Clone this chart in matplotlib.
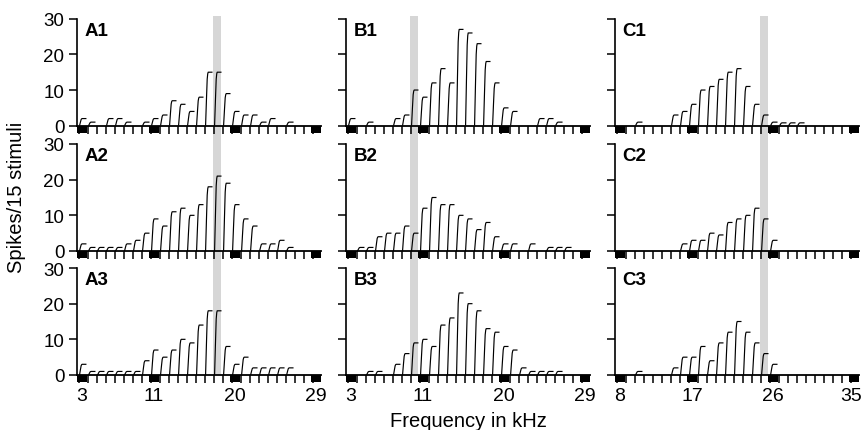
import matplotlib
matplotlib.use("Agg")
import matplotlib.pyplot as plt
import matplotlib.transforms as mtransforms
from matplotlib.patches import Rectangle

plt.rcParams['font.family'] = ['Liberation Sans', 'DejaVu Sans']

# ---------------- data ----------------
n_bins = 27
label_bins = [0, 8, 17, 26]
labels_AB = ["3", "11", "20", "29"]
labels_C = ["8", "17", "26", "35"]
band_bins = {"A": 15, "B": 7, "C": 16}

A1 = [2, 1, 0, 2, 2, 1, 0, 1, 2, 3, 7, 6, 4, 8, 15, 15, 9, 4, 3, 3, 1, 2, 0, 1, 0, 0, 0]
A2 = [2, 1, 1, 1, 1, 2, 3, 5, 9, 7, 11, 12, 10, 13, 18, 21, 19, 13, 9, 7, 2, 2, 3, 1, 0, 0, 0]
A3 = [3, 1, 1, 1, 1, 1, 1, 4, 7, 5, 7, 10, 9, 14, 18, 18, 8, 3, 5, 2, 2, 2, 2, 2, 0, 0, 0]
B1 = [2, 0, 1, 0, 0, 2, 3, 10, 8, 12, 16, 12, 27, 26, 23, 18, 12, 5, 4, 0, 0, 2, 2, 1, 0, 0, 0]
B2 = [0, 1, 1, 4, 5, 5, 7, 5, 12, 15, 13, 13, 10, 9, 6, 8, 4, 2, 2, 0, 2, 0, 1, 1, 1, 0, 0]
B3 = [0, 0, 1, 1, 0, 3, 6, 9, 10, 8, 14, 16, 23, 20, 18, 13, 12, 8, 7, 2, 1, 1, 1, 1, 0, 0, 0]
C1 = [0, 0, 1, 0, 0, 0, 3, 4, 6, 10, 11, 13, 15, 16, 11, 6, 3, 1, 0.8, 0.8, 0.8, 0, 0, 0, 0, 0, 0]
C2 = [0, 0, 0, 0, 0, 0, 0, 2, 3, 3, 5, 4.5, 8, 9, 10, 12, 9, 3, 0, 0, 0, 0, 0, 0, 0, 0, 0]
C3 = [0, 0, 1, 0, 0, 0, 2, 5, 5, 8, 4, 9, 12, 15, 12, 9, 6, 3, 0, 0, 0, 0, 0, 0, 0, 0, 0]

panels = {"A1": A1, "A2": A2, "A3": A3,
          "B1": B1, "B2": B2, "B3": B3,
          "C1": C1, "C2": C2, "C3": C3}

# mark shape (cumulative-like rise then plateau) within a bin
shape_dx = [0.03, 0.13, 0.21, 0.27, 0.32, 0.80]
shape_fy = [0.0, 0.5, 0.87, 0.97, 1.0, 1.0]

# ---------------- layout ----------------
W, H = 863, 431
fig = plt.figure(figsize=(W / 100, H / 100), dpi=100)

col_left = {"A": 77, "B": 346, "C": 615}
row_base = {"1": 126.7, "2": 252, "3": 376}
ax_w, ax_h = 244, 107
x_lo, x_hi = -0.25, 26.85
px_per_unit = ax_h / 30.0

axes = {}
for col in "ABC":
    for row in "123":
        name = col + row
        ax = fig.add_axes([col_left[col] / W, (H - row_base[row]) / H, ax_w / W, ax_h / H])
        ax.set_facecolor("none")
        axes[name] = ax
        vals = panels[name]
        for k, v in enumerate(vals):
            if v <= 0:
                continue
            xs = [k + d for d in shape_dx]
            ys = [v * f for f in shape_fy]
            ax.plot(xs, ys, color="black", lw=0.85, solid_capstyle="butt", zorder=4, clip_on=False)
        ax.set_xlim(x_lo, x_hi)
        ax.set_ylim(0, 30)
        for s in ["top", "right"]:
            ax.spines[s].set_visible(False)
        ax.spines["left"].set_bounds(0, 30)
        ax.spines["left"].set_linewidth(1.2)
        ax.spines["bottom"].set_linewidth(1.3)
        ax.spines["bottom"].set_zorder(5)
        ax.set_xticks(range(n_bins))
        ax.set_xticklabels([])
        ax.tick_params(axis="x", which="major", direction="out", length=6, width=1.1, color="black")
        ax.set_yticks([0, 10, 20, 30])
        ax.tick_params(axis="y", direction="out", length=6, width=1.1, pad=3, labelsize=13.5)
        if col != "A":
            ax.set_yticklabels([])
        # black squares at labelled frequencies
        sq_h = 7 / px_per_unit
        for kb in label_bins:
            ax.add_patch(Rectangle((kb - 0.25, 0), 1.1, -sq_h, facecolor="black",
                                   edgecolor="none", clip_on=False, zorder=6))
        if row == "3":
            labs = labels_C if col == "C" else labels_AB
            pos = [kb + 0.3 for kb in label_bins]
            if col == "C":
                pos[-1] = label_bins[-1] - 0.05
            ax.set_xticks(pos, minor=True)
            ax.set_xticklabels(labs, minor=True, fontsize=14)
            ax.tick_params(axis="x", which="minor", length=0, pad=8.5)
        ax.text(0.03, 0.89, name, transform=ax.transAxes, fontsize=13.5,
                fontweight="bold", va="center", ha="left")

# grey frequency bands spanning all three rows
for col in "ABC":
    ax = axes[col + "1"]
    trans = mtransforms.blended_transform_factory(ax.transData, fig.transFigure)
    kb = band_bins[col]
    band = Rectangle((kb - 0.17, (H - 376) / H), 0.95, (376 - 17) / H,
                     transform=trans, facecolor="#d6d6d6", edgecolor="none", zorder=-1)
    fig.add_artist(band)

fig.text(17 / W, (H - 197) / H, "Spikes/15 stimuli", rotation=90, fontsize=14.5,
         ha="center", va="center")
fig.text(468 / W, (H - 427) / H, "Frequency in kHz", fontsize=14.5,
         ha="center", va="baseline")

fig.savefig("out.png", dpi=100)
